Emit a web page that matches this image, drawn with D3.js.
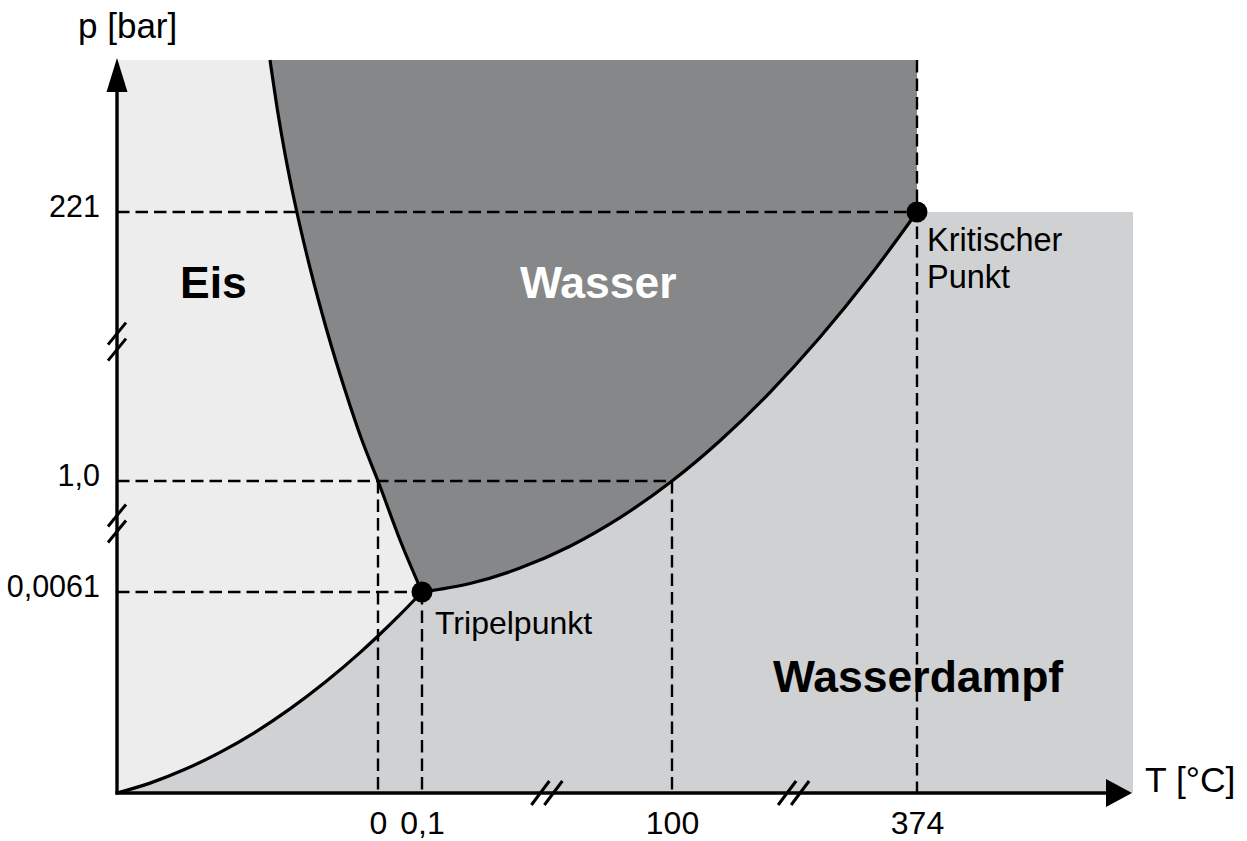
<!DOCTYPE html>
<meta charset="utf-8">
<title>Phasendiagramm Wasser</title>
<style>
  body { margin: 0; background: #fff; }
  svg text { font-family: "Liberation Sans", Arial, sans-serif; fill: #000; }
</style>
<body>
<script src="https://cdn.jsdelivr.net/npm/d3@7"></script>
<script>
var width = 1247, height = 841;

// axis anchors (the axes are broken, so the scales are piecewise)
var tDomain = [-40, 0, 0.1, 100, 374, 500];
var pDomain = [0, 0.0061, 1, 221, 300];
var tTicks = [0, 0.1, 100, 374];
var tLabels = ["0", "0,1", "100", "374"];
var pTicks = [0.0061, 1, 221];
var pLabels = ["0,0061", "1,0", "221"];
var tBreaks = [50, 236];
var pBreaks = [0.62, 115];

var triple = [0.1, 0.0061];
var critical = [374, 221];

// phase boundaries as [T, p]
var sublimation = [[-40, 0], [-34.94, 0.0003], [-29.58, 0.000719], [-24.21, 0.001232], [-18.85, 0.001842],
  [-13.49, 0.002552], [-8.12, 0.00336], [-2.76, 0.004261], [0, 0.004765], [0.05, 0.005414], [0.1, 0.0061]];
var melting = [[-16.55, 300], [-15.16, 268.8], [-13.78, 242.8], [-12.44, 221], [-10.34, 173.6],
  [-7.86, 124.5], [-5.06, 75.4], [-2.47, 34.5], [0, 1], [0.0509, 0.4628], [0.1, 0.0061]];
var vaporization = [[0.1, 0.0061], [19.28, 0.0822], [39.26, 0.2201], [59.24, 0.4162], [79.22, 0.6723],
  [100, 1], [153.68, 33.96], [209.6, 73.54], [265.5, 118.5], [321.4, 168.8], [374, 221]];

var x = d3.scaleLinear().domain(tDomain).range([117, 378, 422, 672, 917, 1133]);
var y = d3.scaleLinear().domain(pDomain).range([793, 592, 481, 212, 60]);

var svg = d3.select('body').append('svg')
    .attr('width', width)
    .attr('height', height);

var line = d3.line()
    .x(function(d) { return x(d[0]); })
    .y(function(d) { return y(d[1]); })
    .curve(d3.curveMonotoneX);

var x0 = x(tDomain[0]), x1 = x(tDomain[tDomain.length - 1]);
var y0 = y(pDomain[0]), y1 = y(pDomain[pDomain.length - 1]);

// Eis (background)
svg.append('rect')
    .attr('x', x0).attr('y', y1)
    .attr('width', x(critical[0]) - x0).attr('height', y0 - y1)
    .attr('fill', '#ededed');

// Wasserdampf
svg.append('path')
    .attr('d', line(sublimation) + line(vaporization).replace(/^M/, 'L') +
      'L' + x1 + ',' + y(critical[1]) + 'L' + x1 + ',' + y0 + 'Z')
    .attr('fill', '#d0d1d3');

// Wasser
svg.append('path')
    .attr('d', line(melting) + line(vaporization).replace(/^M/, 'L') +
      'L' + x(critical[0]) + ',' + y1 + 'Z')
    .attr('fill', '#868789');

// dashed guide lines
var guides = [
  [[tDomain[0], 221], [374, 221]],
  [[tDomain[0], 1], [100, 1]],
  [[tDomain[0], 0.0061], [0.1, 0.0061]],
  [[0, 1], [0, 0]],
  [[0.1, 0.0061], [0.1, 0]],
  [[100, 1], [100, 0]],
  [[374, pDomain[pDomain.length - 1]], [374, 0]]
];
svg.selectAll('line.guide')
    .data(guides)
  .enter().append('line')
    .attr('class', 'guide')
    .attr('x1', function(d) { return x(d[0][0]); })
    .attr('y1', function(d) { return y(d[0][1]); })
    .attr('x2', function(d) { return x(d[1][0]); })
    .attr('y2', function(d) { return y(d[1][1]); })
    .attr('stroke', '#000')
    .attr('stroke-width', 2.4)
    .attr('stroke-dasharray', '12.5,6');

// phase boundaries
svg.selectAll('path.curve')
    .data([sublimation, melting, vaporization])
  .enter().append('path')
    .attr('class', 'curve')
    .attr('d', line)
    .attr('fill', 'none')
    .attr('stroke', '#000')
    .attr('stroke-width', 3.2);

// axes lines + arrows
svg.append('line')
    .attr('x1', x0).attr('y1', y0 + 1.5).attr('x2', x0).attr('y2', y1 + 20)
    .attr('stroke', '#000').attr('stroke-width', 3.4);
svg.append('path')
    .attr('d', 'M' + x0 + ',' + (y1 - 2) + 'L' + (x0 - 10.5) + ',' + (y1 + 32) + 'L' + (x0 + 10.5) + ',' + (y1 + 32) + 'Z')
    .attr('fill', '#000');
svg.append('line')
    .attr('x1', x0 - 1.5).attr('y1', y0).attr('x2', x1 - 20).attr('y2', y0)
    .attr('stroke', '#000').attr('stroke-width', 3.4);
svg.append('path')
    .attr('d', 'M' + (x1 - 1) + ',' + y0 + 'L' + (x1 - 27) + ',' + (y0 - 14) + 'L' + (x1 - 27) + ',' + (y0 + 14) + 'Z')
    .attr('fill', '#000');

// axis breaks
svg.selectAll('g.ybreak')
    .data(pBreaks)
  .enter().append('g')
    .attr('transform', function(d) { return 'translate(' + x0 + ',' + y(d) + ')'; })
    .selectAll('line')
    .data([-8, 8])
  .enter().append('line')
    .attr('x1', -9).attr('y1', function(o) { return o + 11; })
    .attr('x2', 9).attr('y2', function(o) { return o - 11; })
    .attr('stroke', '#000').attr('stroke-width', 3);
svg.selectAll('g.xbreak')
    .data(tBreaks)
  .enter().append('g')
    .attr('transform', function(d) { return 'translate(' + x(d) + ',' + y0 + ')'; })
    .selectAll('line')
    .data([-6.5, 6.5])
  .enter().append('line')
    .attr('x1', function(o) { return o - 9; }).attr('y1', 12)
    .attr('x2', function(o) { return o + 9; }).attr('y2', -12)
    .attr('stroke', '#000').attr('stroke-width', 3);

// tick labels
var yAxis = d3.axisLeft(y)
    .tickValues(pTicks)
    .tickSize(0)
    .tickPadding(17)
    .tickFormat(function(d, i) { return pLabels[i]; });
var gy = svg.append('g')
    .attr('transform', 'translate(' + x0 + ',0)')
    .call(yAxis);
gy.select('.domain').remove();
gy.selectAll('text')
    .attr('font-size', 30.5)
    .attr('font-family', '"Liberation Sans", Arial, sans-serif')
    .attr('fill', '#000')
    .attr('y', -5);

var xAxis = d3.axisBottom(x)
    .tickValues(tTicks)
    .tickSize(0)
    .tickPadding(18)
    .tickFormat(function(d, i) { return tLabels[i]; });
var gx = svg.append('g')
    .attr('transform', 'translate(0,' + y0 + ')')
    .call(xAxis);
gx.select('.domain').remove();
gx.selectAll('text')
    .attr('font-size', 32)
    .attr('font-family', '"Liberation Sans", Arial, sans-serif')
    .attr('fill', '#000');

// axis titles
svg.append('text').attr('x', 78).attr('y', 38).attr('font-size', 35).text('p [bar]');
svg.append('text').attr('x', 1145).attr('y', 792).attr('font-size', 35.5).text('T [°C]');

// points
svg.selectAll('circle')
    .data([triple, critical])
  .enter().append('circle')
    .attr('cx', function(d) { return x(d[0]); })
    .attr('cy', function(d) { return y(d[1]); })
    .attr('r', 10.5)
    .attr('fill', '#000');

svg.append('text')
    .attr('x', x(triple[0]) + 13).attr('y', y(triple[1]) + 42)
    .attr('font-size', 32).text('Tripelpunkt');
svg.append('text')
    .attr('x', x(critical[0]) + 10).attr('y', y(critical[1]) + 39)
    .attr('font-size', 32.5).text('Kritischer');
svg.append('text')
    .attr('x', x(critical[0]) + 10).attr('y', y(critical[1]) + 76)
    .attr('font-size', 32.5).text('Punkt');

// region names
svg.append('text').attr('x', 180).attr('y', 298)
    .attr('font-size', 44.5).attr('font-weight', 'bold').text('Eis');
svg.append('text').attr('x', 520).attr('y', 298)
    .attr('font-size', 44.5).attr('font-weight', 'bold').style('fill', '#fff').text('Wasser');
svg.append('text').attr('x', 773).attr('y', 692)
    .attr('font-size', 44.5).attr('font-weight', 'bold').text('Wasserdampf');
</script>
